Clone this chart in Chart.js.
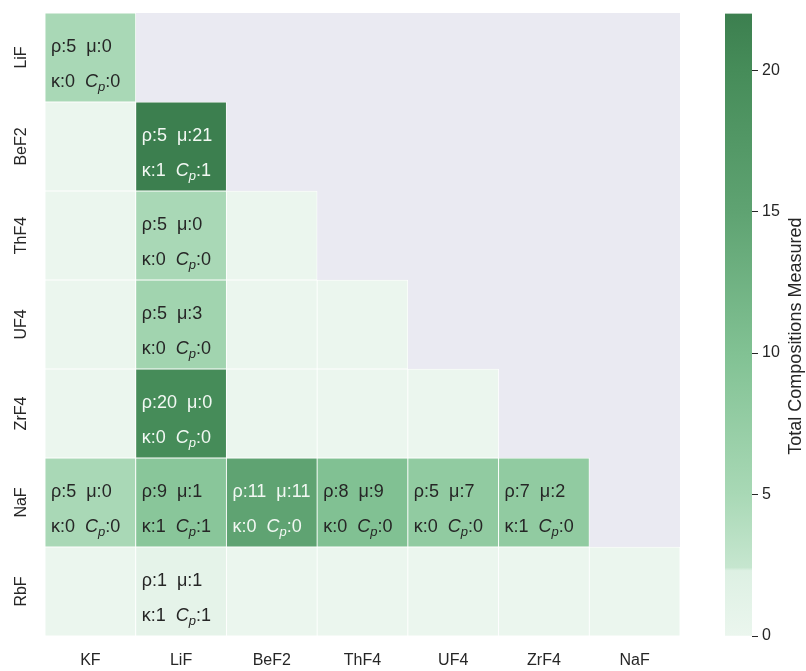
<!DOCTYPE html>
<html><head><meta charset="utf-8">
<script src="https://cdn.jsdelivr.net/npm/chart.js@4/dist/chart.umd.min.js"></script>
<style>
html,body{margin:0;padding:0;background:#fff;}
#wrap{position:relative;width:806px;height:671px;}
#heat{position:absolute;left:0;top:0;}
#cbar{position:absolute;left:700px;top:0;}
</style></head><body>
<div id="wrap">
<canvas id="heat" width="806" height="671"></canvas>
<canvas id="cbar" width="106" height="671"></canvas>
</div>
<script>
// Salt pairs: rows (second component) and columns (first component)
const rowLabels = ['LiF', 'BeF2', 'ThF4', 'UF4', 'ZrF4', 'NaF', 'RbF'];
const colLabels = ['KF', 'LiF', 'BeF2', 'ThF4', 'UF4', 'ZrF4', 'NaF'];

// Total compositions measured per pair (lower triangle incl. diagonal)
const totals = [
  [5],
  [0, 22],
  [0, 5, 0],
  [0, 6, 0, 0],
  [0, 20, 0, 0, 0],
  [5, 9, 15, 10, 8, 8],
  [0, 1, 0, 0, 0, 0, 0]
];

// Property counts: density, viscosity, thermal conductivity, heat capacity
const rho   = [[5], [null, 5], [null, 5], [null, 5], [null, 20], [5, 9, 11, 8, 5, 7], [null, 1]];
const mu    = [[0], [null, 21], [null, 0], [null, 3], [null, 0], [0, 1, 11, 9, 7, 2], [null, 1]];
const kappa = [[0], [null, 1], [null, 0], [null, 0], [null, 0], [0, 1, 0, 0, 0, 1], [null, 1]];
const cp    = [[0], [null, 1], [null, 0], [null, 0], [null, 0], [0, 1, 0, 0, 0, 0], [null, 1]];

const colorbarTicks = [0, 5, 10, 15, 20];
const vmin = 0, vmax = 22;

// Light green colormap
const cmap = [
  [0.00, [235, 246, 238]],
  [0.105, [221, 240, 227]],
  [0.11, [198, 230, 207]],
  [0.23, [168, 216, 181]],
  [0.45, [130, 194, 148]],
  [0.68, [95, 163, 114]],
  [0.91, [70, 140, 89]],
  [1.00, [60, 127, 79]]
];
function cmapRGB(f) {
  f = Math.max(0, Math.min(1, f));
  for (let k = 1; k < cmap.length; k++) {
    if (f <= cmap[k][0]) {
      const [f0, c0] = cmap[k - 1], [f1, c1] = cmap[k];
      const t = (f - f0) / (f1 - f0);
      return c0.map((v, i) => Math.round(v + (c1[i] - v) * t));
    }
  }
  return cmap[cmap.length - 1][1];
}
const rgbStr = c => `rgb(${c[0]},${c[1]},${c[2]})`;
function lum(c) {
  const l = c.map(v => { v /= 255; return v <= 0.03928 ? v / 12.92 : Math.pow((v + 0.055) / 1.055, 2.4); });
  return 0.2126 * l[0] + 0.7152 * l[1] + 0.0722 * l[2];
}

const FONT = '"Liberation Sans", Arial, Helvetica, sans-serif';
const TEXT = '#262626';

// One floating-bar dataset per row; bars overlap within a column (grouped: false)
const datasets = rowLabels.map((r, i) => ({
  label: r,
  data: colLabels.map((c, j) => (j <= i ? [i, i + 1] : null)),
  backgroundColor: colLabels.map((c, j) => (j <= i ? rgbStr(cmapRGB((totals[i][j] - vmin) / (vmax - vmin))) : 'rgba(0,0,0,0)')),
  borderColor: '#ffffff',
  borderWidth: 0.8,
  borderSkipped: false,
  grouped: false,
  barPercentage: 1,
  categoryPercentage: 1
}));

const heatPlugin = {
  id: 'heatExtras',
  beforeDatasetsDraw(chart) {
    const { ctx, chartArea: a } = chart;
    ctx.save();
    ctx.fillStyle = '#eaeaf2';
    ctx.fillRect(a.left, a.top, a.right - a.left, a.bottom - a.top);
    ctx.restore();
  },
  afterDatasetsDraw(chart) {
    const { ctx } = chart;
    const ys = chart.scales.y;
    ctx.save();
    // row labels, rotated
    ctx.fillStyle = TEXT;
    ctx.font = '16px ' + FONT;
    ctx.textAlign = 'center';
    ctx.textBaseline = 'middle';
    rowLabels.forEach((r, i) => {
      ctx.save();
      ctx.translate(22, ys.getPixelForValue(i + 0.5));
      ctx.rotate(-Math.PI / 2);
      ctx.fillText(r, 0, 0);
      ctx.restore();
    });
    // cell annotations
    ctx.textAlign = 'left';
    ctx.textBaseline = 'middle';
    rowLabels.forEach((r, i) => {
      const meta = chart.getDatasetMeta(i);
      colLabels.forEach((c, j) => {
        if (j > i || rho[i][j] == null) return;
        const el = meta.data[j];
        const left = el.x - el.width / 2;
        const top = Math.min(el.y, el.base);
        const h = Math.abs(el.base - el.y);
        const col = cmapRGB((totals[i][j] - vmin) / (vmax - vmin));
        ctx.fillStyle = lum(col) < 0.408 ? '#f2f8f3' : TEXT;
        const x0 = left + 6;
        const y1 = top + h * 0.38, y2 = top + h * 0.78;
        const base = '18px ' + FONT, ital = 'italic 18px ' + FONT, sub = 'italic 13px ' + FONT;
        ctx.font = base;
        ctx.fillText('ρ:' + rho[i][j] + '  μ:' + mu[i][j], x0, y1);
        let x = x0;
        const put = (t, f, dy) => { ctx.font = f; ctx.fillText(t, x, y2 + dy); x += ctx.measureText(t).width; };
        put('κ:' + kappa[i][j] + '  ', base, 0);
        put('C', ital, 0);
        put('p', sub, 5);
        put(':' + cp[i][j], base, 0);
      });
    });
    ctx.restore();
  }
};

new Chart(document.getElementById('heat'), {
  type: 'bar',
  data: { labels: colLabels, datasets },
  options: {
    responsive: false,
    animation: false,
    layout: { padding: { left: 45, top: 13, right: 126, bottom: 0 } },
    plugins: { legend: { display: false }, tooltip: { enabled: false } },
    scales: {
      x: {
        type: 'category',
        grid: { display: false },
        border: { display: false },
        ticks: { color: TEXT, font: { size: 16, family: FONT }, padding: 7, maxRotation: 0 },
        afterFit(s) { s.height = 35; }
      },
      y: {
        type: 'linear', display: false, reverse: true, min: 0, max: rowLabels.length
      }
    }
  },
  plugins: [heatPlugin]
});

// Colorbar
const cbarPlugin = {
  id: 'cbarTitle',
  afterDraw(chart) {
    const { ctx } = chart;
    const ys = chart.scales.y;
    ctx.save();
    ctx.fillStyle = TEXT;
    ctx.font = '18px ' + FONT;
    ctx.textAlign = 'center';
    ctx.textBaseline = 'middle';
    ctx.translate(96, ys.getPixelForValue(10.6));
    ctx.rotate(-Math.PI / 2);
    ctx.fillText('Total Compositions Measured', 0, 0);
    ctx.restore();
  }
};

new Chart(document.getElementById('cbar'), {
  type: 'bar',
  data: {
    labels: [''],
    datasets: [{
      data: [[vmin, vmax]],
      barPercentage: 1,
      categoryPercentage: 1,
      borderWidth: 0,
      backgroundColor(ctx) {
        const chart = ctx.chart, a = chart.chartArea;
        if (!a) return 'rgba(0,0,0,0)';
        const y = chart.scales.y;
        const g = chart.ctx.createLinearGradient(0, y.getPixelForValue(vmin), 0, y.getPixelForValue(vmax));
        cmap.forEach(([f, c]) => g.addColorStop(f, rgbStr(c)));
        return g;
      }
    }]
  },
  options: {
    responsive: false,
    animation: false,
    layout: { padding: { left: 25, top: 13, right: 0, bottom: 35 } },
    plugins: { legend: { display: false }, tooltip: { enabled: false } },
    scales: {
      x: { display: false },
      y: {
        type: 'linear', position: 'right', min: vmin, max: vmax,
        afterBuildTicks(s) { s.ticks = colorbarTicks.map(v => ({ value: v })); },
        grid: { display: true, drawOnChartArea: false, tickLength: 6, tickColor: TEXT, tickWidth: 1 },
        border: { display: false },
        ticks: { color: TEXT, font: { size: 16, family: FONT }, padding: 4 },
        afterFit(s) { s.width = 54; }
      }
    }
  },
  plugins: [cbarPlugin]
});
</script>
</body></html>
